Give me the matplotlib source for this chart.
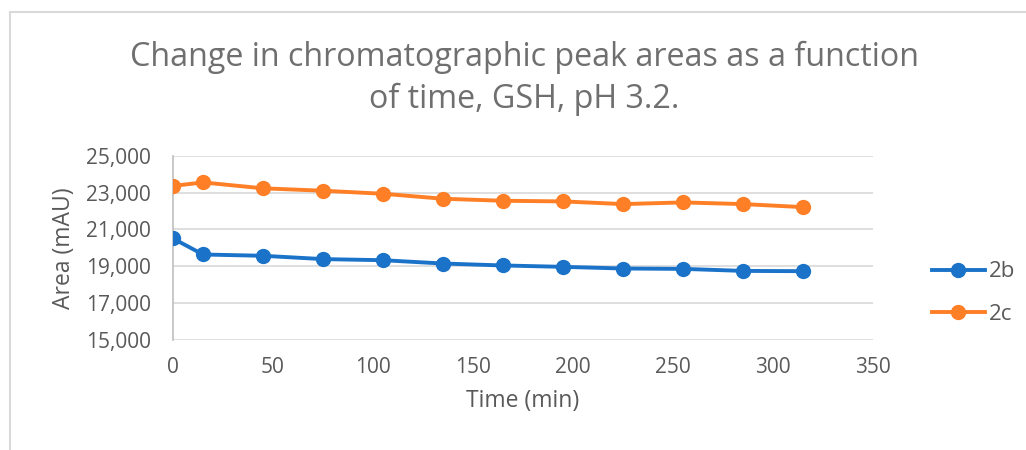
import matplotlib
matplotlib.use('Agg')

import matplotlib.pyplot as plt
from matplotlib.patches import Rectangle

plt.rcParams['font.family'] = ['Open Sans', 'DejaVu Sans']

time_min = [0, 15, 45, 75, 105, 135, 165, 195, 225, 255, 285, 315]
area_2b = [20510, 19640, 19570, 19390, 19330, 19150, 19045, 18970, 18880, 18860, 18750, 18735]
area_2c = [23360, 23550, 23230, 23100, 22935, 22665, 22555, 22520, 22375, 22465, 22375, 22210]

xticks = [0, 50, 100, 150, 200, 250, 300, 350]
yticks = [15000, 17000, 19000, 21000, 23000, 25000]

text_grey = '#595959'
grid_grey = '#d9d9d9'

fig = plt.figure(figsize=(10.26, 4.5), dpi=100)
ax = fig.add_axes([0.1686, 0.2444, 0.6823, 0.4096])

ax.plot(time_min, area_2b, '-o', color='#1a73c8', lw=2.8, ms=10, label='2b', zorder=3)
ax.plot(time_min, area_2c, '-o', color='#fe7f26', lw=2.8, ms=10, label='2c', zorder=3)

ax.set_xlim(0, 350)
ax.set_ylim(15000, 25000)
ax.set_xticks(xticks)
ax.set_yticks(yticks)
ax.set_yticklabels([f'{v:,}' for v in yticks])
ax.grid(axis='y', color=grid_grey, lw=1.2)
ax.set_axisbelow(True)
for side in ['top', 'right', 'bottom']:
    ax.spines[side].set_visible(False)
ax.spines['left'].set_color('#bfbfbf')
ax.spines['left'].set_linewidth(1.2)
ax.tick_params(length=0, labelsize=15, colors=text_grey)
ax.tick_params(axis='y', pad=16)
ax.tick_params(axis='x', pad=12)
for lbl in ax.get_xticklabels() + ax.get_yticklabels():
    lbl.set_color(text_grey)

ax.set_xlabel('Time (min)', fontsize=16.5, color=text_grey, labelpad=8)
ax.set_ylabel('Area (mAU)', fontsize=16.5, color=text_grey, labelpad=7)

fig.text(0.511, 0.826, 'Change in chromatographic peak areas as a function\nof time, GSH, pH 3.2.',
         ha='center', va='center', fontsize=23.2, color='#6f6f6f', linespacing=1.37)

ax.legend(loc='center left', bbox_to_anchor=(1.055, 0.255), frameon=False, fontsize=16,
          labelcolor=text_grey, handlelength=2.4, handletextpad=0.2, labelspacing=0.95)

# light chart frame
fig.patches.append(Rectangle((10 / 1026, -0.1), 1.2, 1 - 12 / 450 + 0.1, transform=fig.transFigure,
                             fill=False, edgecolor=grid_grey, lw=1.5))

fig.savefig('out.png', dpi=100)
